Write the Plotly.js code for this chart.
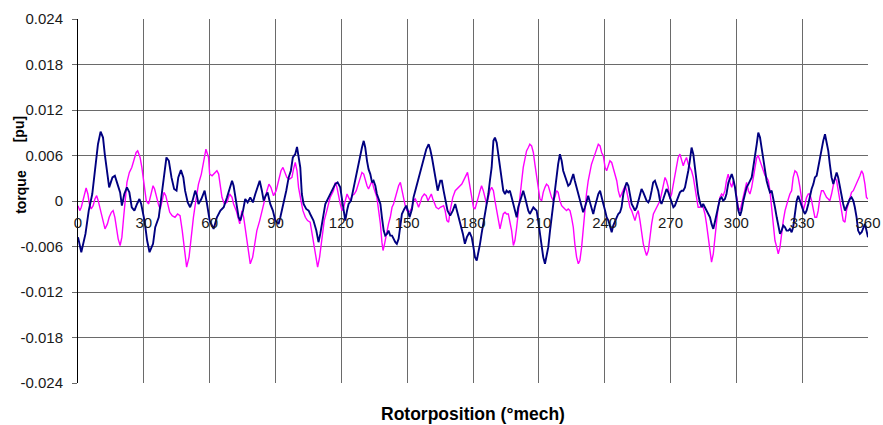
<!DOCTYPE html>
<html>
<head>
<meta charset="utf-8">
<script src="https://cdn.plot.ly/plotly-3.0.1.min.js"></script>
<style>html,body{margin:0;padding:0;background:#fff;}#chart{width:883px;height:425px;}</style>
</head>
<body>
<div id="chart"></div>
<script>
// ---- Navy series (rotor position in degrees, torque in pu) ----
const navyX1 = [0,1.5,3.4,4.9,6.5,8.0,9.1,10.3,11.4,12.2,13.4,14.2,15.7,16.8,18.0,19.2,20.0,21.1,22.3,23.4,24.5,25.7,26.9,28.0,28.8,29.5,30.3,31.5,32.6,34.2,35.2,36.8,38.0,39.2,40.3,41.4,42.6,43.8,44.9,45.7,46.9,48.0,48.8,50.0,51.1,52.2,53.4,54.2,54.9,56.2,57.7];
const navyY1 = [-0.00477,-0.00675,-0.00434,-0.00127,0.00092,0.00442,0.00749,0.00915,0.00837,0.00618,0.00355,0.0018,0.00311,0.00333,0.00223,0.00114,-0.00061,0.00092,0.0018,0.00114,-0.00083,-0.00127,-0.00039,0.00026,-0.00039,-0.00127,-0.00258,-0.00521,-0.00675,-0.00565,-0.00346,-0.00215,0.00048,0.00311,0.00574,0.0053,0.00311,0.00158,0.00136,0.00311,0.00407,0.00311,0.00136,-0.00018,-0.00083,0.00004,0.00136,0.0007,-0.00039,0.00026,0.00136];
const navyX2 = [58.8,60.0,61.8,63.3,64.9,66.4,67.9,69.1,70.2,70.9,72.1,73.2,74.0,75.2,76.2,77.3,78.5,79.7,80.8,81.9,82.8,83.8,84.6,85.5,86.4,87.6,88.8,89.9,91.4,92.2,93.7,94.9,96.0,97.0,97.9,99.0,99.8,100.7,101.3,102.0,102.8,104.0,105.1,105.8,107.3,108.6,109.6,110.4,111.6,112.7,114.2,115.7,117.2,118.3];
const navyY2 = [-0.00039,-0.00258,-0.00368,-0.00215,-0.00127,-0.00083,0.00048,0.0018,0.00267,0.00201,0.00004,-0.00215,-0.00258,-0.00127,0.00026,-0.00018,0.00048,-0.00018,0.00092,0.0018,0.00267,0.00136,0.00004,0.0007,0.00114,-0.00039,-0.00127,-0.00258,-0.00302,-0.00215,-0.00039,0.00136,0.00311,0.00399,0.00574,0.00618,0.00714,0.00574,0.00442,0.00092,-0.00039,-0.00105,-0.00127,-0.00171,-0.00258,-0.0039,-0.00543,-0.00434,-0.00215,-0.00039,0.00048,0.00136,0.00223,0.00245];
const navyX3 = [119.5,120.3,121.1,121.8,122.6,123.3,124.4,125.3,126.4,127.4,128.3,129.4,130.2,130.9,131.7,132.4,133.2,134.0,134.7,135.5,136.2,137.0,137.8,138.5,139.3,140.0,140.8,141.5,142.3,143.1,143.8,144.6,145.3,146.1,146.9,147.6,148.7,149.6,150.3,151.1,152.2,152.9,153.7,154.7,155.7,156.4,157.5,158.7,159.8,160.5,161.3,162.0,162.8,163.9,165.1,165.8,166.6,167.3,168.4,169.6,170.8,171.9,172.7,173.4,174.5,175.4,176.3,177.2,178.4];
const navyY3 = [0.0018,0.00026,-0.00127,-0.00258,-0.00127,-0.00039,0.00004,0.00136,0.00311,0.00442,0.00574,0.00705,0.00793,0.00705,0.0053,0.0042,0.00355,0.00245,0.00267,0.00201,0.00092,0.00026,-0.00039,-0.00215,-0.0039,-0.00456,-0.00434,-0.0039,-0.00456,-0.00456,-0.00499,-0.00543,-0.00565,-0.00499,-0.00324,-0.00171,-0.00105,-0.00061,-0.00127,-0.00215,-0.00105,0.00048,0.00136,0.00245,0.00355,0.00442,0.00574,0.00683,0.00749,0.00683,0.00574,0.00442,0.00311,0.00136,0.00267,0.00267,0.00136,0.00048,-0.00127,-0.00193,-0.00127,-0.00039,-0.00127,-0.00215,-0.00324,-0.00434,-0.00565,-0.00477,-0.00412];
const navyX4 = [179.4,180.2,180.9,181.7,182.4,183.2,183.9,185.0,185.9,187.0,187.7,188.5,189.3,190.0,190.8,191.5,192.3,193.1,193.8,194.6,195.3,196.1,196.8,197.6,198.4,199.1,199.9,200.6,201.4,202.2,202.9,203.7,204.4,205.2,205.9,206.7,207.5,208.2,209.0,209.7,210.5,211.3,212.0,212.8,213.5,214.3,215.1,215.8,216.6,217.3,218.1,218.8,219.6,220.4,221.1,221.9,222.6,223.4,224.2,224.9,225.7,226.4,227.2,228.0,228.7,229.5,230.2,231.0,231.7,232.5,233.3,234.0,234.8,235.5,236.3,237.1];
const navyY4 = [-0.00477,-0.00609,-0.0074,-0.00784,-0.00696,-0.00565,-0.00434,-0.00258,-0.00083,0.00092,0.00267,0.00442,0.00793,0.00837,0.0077,0.00618,0.00442,0.00267,0.00136,0.00092,0.00136,0.00114,0.00136,0.00048,-0.00039,-0.00127,-0.00215,-0.00083,0.00004,0.00092,0.00136,0.00048,-0.00039,-0.00127,-0.00171,-0.00127,-0.00083,-0.00105,-0.00127,-0.00258,-0.00434,-0.00609,-0.0074,-0.00828,-0.0074,-0.00609,-0.0039,-0.00215,-0.00039,0.00136,0.00311,0.00486,0.00618,0.0053,0.00399,0.00333,0.00267,0.00201,0.00223,0.00289,0.00355,0.00267,0.0018,0.00114,0.00004,-0.00083,-0.00149,-0.00083,0.00004,0.0007,-0.00018,-0.00083,-0.00171,-0.00083,0.00026,0.00092];
const navyX5 = [237.9,238.6,239.4,240.2,240.9,241.7,242.4,243.2,243.9,244.7,245.5,246.2,247.0,247.7,248.5,249.3,250.0,250.8,251.5,252.3,253.1,253.8,254.6,255.3,256.1,256.8,257.6,258.4,259.1,259.9,260.6,261.4,262.1,262.9,263.7,264.4,265.2,265.9,266.7,267.5,268.2,269.0,269.7,270.5,271.3,272.0,272.8,273.5,274.3,275.1,275.8,276.6,277.3,278.1,278.8,279.6,280.4,281.1,281.9,282.6,283.4,284.2,284.9,285.7,286.4,287.2,288.0,288.7,289.5,290.2,291.0,291.7,292.5,293.3,294.0,294.8,295.5];
const navyY5 = [0.00136,0.0007,-0.00039,-0.00127,-0.00215,-0.00258,-0.00346,-0.00412,-0.00324,-0.00258,-0.00215,-0.00171,-0.00149,-0.00083,0.00092,0.0018,0.00245,0.00201,0.0007,-0.00039,-0.00083,-0.00127,-0.00083,0.00004,0.00092,0.00158,0.00114,0.00048,0.00004,-0.00018,0.00026,0.00136,0.00245,0.00267,0.00201,0.00136,0.00004,-0.00039,0.00026,0.00092,0.00158,0.00114,0.00048,-0.00039,-0.00083,-0.00061,0.00004,0.0007,0.00114,0.00136,0.00136,0.0018,0.00267,0.00399,0.0053,0.00705,0.00618,0.00442,0.00267,0.00092,-0.00018,-0.00083,-0.00039,-0.00083,-0.00127,-0.00171,-0.00215,-0.00302,-0.00368,-0.0028,-0.00171,-0.00039,0.00026,0.00048,0.00004,0.00026,0.00092];
const navyX6 = [296.4,297.1,297.9,298.6,299.4,300.2,300.9,301.7,302.4,303.2,303.9,304.7,305.5,306.2,307.0,307.7,308.5,309.3,310.0,310.8,311.5,312.3,313.1,313.8,314.6,315.3,316.1,316.8,317.6,318.4,319.1,319.9,320.6,321.4,322.2,322.9,323.7,324.4,325.2,325.9,326.7,327.5,328.2,329.0,329.7,330.5,331.3,332.0,332.8,333.5,334.3,335.1,335.8,336.6,337.3,338.1,338.8,339.6,340.4,341.1,341.9,342.6,343.4,344.2,344.9,345.7,346.4,347.2,348.0,348.7,349.5,350.2,351.0,351.7,352.5,353.3,354.0,354.8,355.5,356.3,357.1,357.8,358.6,359.3,360];
const navyY6 = [0.00245,0.00311,0.00355,0.00289,0.0018,0.00004,-0.00127,-0.00193,-0.00127,0.00004,0.00092,0.0018,0.00223,0.00267,0.00311,0.00442,0.00574,0.00749,0.00902,0.00837,0.00705,0.0053,0.00355,0.00267,0.0018,0.00114,0.00136,0.00048,-0.00083,-0.00215,-0.00324,-0.00434,-0.0039,-0.00324,-0.00346,-0.0039,-0.0039,-0.00368,-0.00412,-0.00346,-0.00171,0.00004,0.0007,0.00004,-0.00083,-0.00127,-0.00171,-0.00127,-0.00039,0.0007,0.00158,0.00223,0.00311,0.00333,0.00442,0.00574,0.00705,0.00793,0.0088,0.00793,0.00661,0.00486,0.00311,0.00223,0.00311,0.00377,0.00311,0.0018,0.00048,-0.00039,-0.00127,-0.00083,-0.00018,0.00026,0.00048,0.00004,-0.00083,-0.00215,-0.0039,-0.00434,-0.00412,-0.00346,-0.00302,-0.0039,-0.00477];

// ---- Magenta series ----
const magX1 = [0.0,0.8,1.5,2.3,3.1,3.7,4.5,5.2,6.0,6.9,7.7,8.5,9.2,10.3,11.4,12.3,13.4,14.2,15.2,16.0,16.8,17.5,18.3,19.2,20.0,20.8,21.5,22.3,23.4,24.5,25.4,26.5,27.2,28.3,29.1,30.0,31.1,32.2,33.1,34.2,34.9,35.7,36.8,37.5,38.5,39.2,40.0,40.8,41.8,42.9,44.2,45.4,46.5,47.5,48.5,49.5,50.6,51.5,52.6,53.7,54.9,56.2,57.2,58.3,59.5];
const magY1 = [-0.00061,-0.00127,-0.00083,0.00026,0.00136,0.00171,0.00092,-0.00039,-0.00105,-0.00061,0.00026,0.0007,0.00004,-0.00127,-0.00258,-0.00368,-0.00302,-0.00215,-0.00149,-0.00127,-0.00215,-0.00368,-0.00499,-0.00587,-0.00477,-0.00215,0.00004,0.00245,0.00377,0.00442,0.0053,0.0064,0.00661,0.00574,0.00442,0.00223,0.00004,-0.00039,0.0007,0.00201,0.00158,0.00048,-0.00061,-0.00105,0.00048,0.00114,0.0007,-0.00039,-0.00149,-0.00193,-0.00215,-0.00171,-0.00193,-0.0039,-0.00653,-0.00872,-0.0074,-0.00477,-0.00215,0.00004,0.00223,0.00355,0.0053,0.00683,0.00574];
const magX2 = [60.0,61.1,62.6,63.3,64.1,64.9,65.6,66.7,67.9,69.1,70.2,70.9,72.1,73.7,74.7,75.5,76.7,77.8,78.5,79.6,80.5,81.5,82.8,83.8,84.9,86.1,87.0,87.9,89.1,90.3,91.4,92.5,93.4,94.4,95.2,96.4,97.5,98.2,99.0,99.8,100.5,101.6,102.5,103.6,104.6,105.8,107.0,108.1,109.2,110.1,111.1,112.2,113.4,114.9,116.4];
const magY2 = [0.00355,0.00333,0.00377,0.00399,0.00355,0.0018,0.00048,-0.00039,-0.00018,0.00092,0.00048,-0.00039,-0.00127,-0.00302,-0.00127,-0.00215,-0.00477,-0.00696,-0.00828,-0.0074,-0.00565,-0.0039,-0.00258,-0.00127,0.00004,0.00136,0.00223,0.0018,0.0007,0.00136,0.00267,0.00399,0.00442,0.00377,0.00311,0.00289,0.00311,0.0042,0.00508,0.00399,0.0018,0.00004,-0.00127,-0.00215,-0.00258,-0.0028,-0.00477,-0.00653,-0.00872,-0.0074,-0.00477,-0.00258,-0.00127,0.00048,0.00136];
const magX3 = [117.3,118.0,118.8,119.5,120.3,121.1,121.8,122.6,123.3,124.1,124.9,125.9,126.8,127.9,128.6,129.4,130.2,130.9,131.7,132.4,133.2,134.0,134.7,135.5,136.2,137.0,137.8,138.5,139.0,139.7,140.5,141.5,142.3,143.1,143.8,144.6,145.3,146.1,146.9,147.6,148.4,149.1,149.9,150.7,151.4,152.2,152.9,153.7,154.4,155.2,156.0,156.7,157.8,158.7,159.5,160.2,161.0,161.7,162.5,163.2,164.3,165.1,166.6,167.3,168.1,168.9,169.6,170.8,171.9,173.4,174.9,176.4,177.5];
const magY3 = [0.00245,0.0018,0.00048,-0.00039,-0.00127,-0.00083,0.00004,0.00092,0.00048,0.00004,0.0007,0.00092,0.00136,0.00245,0.00311,0.00377,0.00355,0.00267,0.00201,0.00158,0.00223,0.00267,0.0018,0.00114,0.00048,-0.00127,-0.00302,-0.00543,-0.00653,-0.00565,-0.00434,-0.00302,-0.00215,-0.00083,-0.00039,0.00048,0.00136,0.00201,0.00245,0.00136,0.00004,-0.00061,-0.00127,-0.00149,-0.00127,-0.00083,0.00004,0.00026,-0.00018,-0.00083,-0.00018,0.00048,0.00092,0.0007,0.00004,0.00048,0.00092,0.00026,-0.00039,-0.00083,-0.00105,-0.00083,-0.00061,-0.00127,-0.00258,-0.0028,-0.00127,0.00048,0.00136,0.0018,0.00223,0.00311,0.00377];
const magX4 = [177.9,178.6,179.4,180.2,180.9,181.7,182.4,183.2,183.9,184.7,185.5,186.2,187.0,187.7,188.5,189.3,190.0,190.8,191.5,192.3,193.1,193.8,194.6,195.3,196.1,196.8,197.6,198.4,199.1,199.9,200.6,201.4,202.2,202.9,203.7,204.4,205.2,205.9,206.7,207.5,208.2,209.0,209.7,210.5,211.3,212.0,212.8,213.5,214.3,215.1,215.8,216.6,217.3,218.1,218.8,219.6,220.4,221.1,221.9,222.6,223.4,224.2,224.9,225.7,226.4,227.2,228.0,228.7,229.5,230.2,231.0,231.7,232.5,233.3,234.0,234.8,235.5,236.3,237.1];
const magY4 = [0.00311,0.0018,0.00048,-0.00083,-0.00105,-0.00039,0.00048,0.00136,0.00201,0.00136,0.00026,-0.00039,0.00048,0.00136,0.0018,0.00136,0.00004,-0.00127,-0.00258,-0.00368,-0.00258,-0.00171,-0.00149,-0.00171,-0.00171,-0.00258,-0.0039,-0.00587,-0.00521,-0.00346,-0.00127,0.00092,0.00267,0.00442,0.00574,0.00661,0.00705,0.00749,0.00727,0.0064,0.00486,0.00311,0.00136,0.00026,0.00004,0.00114,0.0018,0.00223,0.00201,0.00114,0.00048,0.00004,0.00048,0.00136,0.00114,0.00004,-0.00061,-0.00083,-0.00105,-0.00127,-0.00105,-0.00127,-0.00215,-0.00346,-0.00565,-0.0074,-0.00828,-0.00784,-0.00609,-0.00346,-0.00127,0.00092,0.00267,0.00399,0.00486,0.00552,0.00618,0.00705,0.00749];
const magX5 = [237.9,238.6,239.4,240.2,240.9,241.7,242.4,243.2,243.9,244.7,245.5,246.2,247.0,247.7,248.5,249.3,250.0,250.8,251.5,252.3,253.1,253.8,254.6,255.3,256.1,256.8,257.6,258.4,259.1,259.9,260.6,261.4,262.2,262.9,263.7,264.4,265.2,265.9,266.7,267.5,268.2,269.0,269.7,270.5,271.3,272.0,272.8,273.5,274.3,275.1,275.8,276.6,277.3,278.1,278.8,279.6,280.4,281.1,281.9,282.6,283.4,284.2,284.9,285.7,286.4,287.2,288.0,288.7,289.5,290.2,291.0,291.7,292.5,293.3,294.0,294.8,295.5,296.3];
const magY5 = [0.00727,0.0064,0.00596,0.00442,0.00399,0.00464,0.0053,0.00508,0.00442,0.00355,0.00267,0.00136,0.00048,0.00092,0.00158,0.00201,0.00136,0.00004,-0.00083,-0.00127,-0.00215,-0.00258,-0.00171,-0.00127,-0.00258,-0.00434,-0.00565,-0.00653,-0.00718,-0.00653,-0.00477,-0.00302,-0.00171,-0.00127,-0.00083,-0.00039,0.00004,0.00092,0.00201,0.00311,0.00267,0.0018,0.00026,0.00092,0.00223,0.00355,0.00486,0.00574,0.00618,0.0053,0.00464,0.0053,0.00574,0.00486,0.00442,0.00399,0.00311,0.0018,0.00048,-0.00083,-0.00083,-0.00061,-0.00083,-0.00171,-0.00302,-0.00477,-0.00653,-0.00806,-0.00696,-0.00477,-0.00258,-0.00083,0.00048,0.00092,0.0007,0.00136,0.00267,0.00355];
const magX6 = [297.1,297.9,298.6,299.4,300.2,300.9,301.7,302.4,303.2,303.9,304.7,305.5,306.2,307.0,307.7,308.5,309.3,310.0,310.8,311.5,312.3,313.1,313.8,314.6,315.3,316.1,316.8,317.6,318.4,319.1,319.9,320.6,321.4,322.2,322.9,323.7,324.4,325.2,325.9,326.7,327.5,328.2,329.0,329.7,330.5,331.3,332.0,332.8,333.5,334.3,335.1,335.8,336.6,337.3,338.1,338.8,339.6,340.4,341.1,341.9,342.6,343.4,344.2,344.9,345.7,346.4,347.2,348.0,348.7,349.5,350.2,351.0,351.7,352.5,353.3,354.0,354.8,355.5,356.3,357.1,357.8,358.6,359.3,360];
const magY6 = [0.00245,0.0018,0.00267,0.0018,0.00048,-0.00083,-0.00127,-0.00039,0.00092,0.00136,0.00245,0.00136,0.00092,0.0018,0.00311,0.00442,0.00574,0.00596,0.0053,0.00442,0.00377,0.00333,0.00311,0.00267,0.00136,-0.00083,-0.00302,-0.00521,-0.00609,-0.00696,-0.00609,-0.00434,-0.00258,-0.00127,-0.00039,0.00026,0.00092,0.00136,0.00311,0.00399,0.00377,0.00311,0.0018,0.00004,-0.00127,-0.00039,0.00048,0.00092,0.00092,0.00004,-0.00127,-0.00215,-0.00215,-0.00127,0.00048,0.00136,0.00136,0.00092,0.00048,0.00026,0.00004,0.00092,0.00223,0.00311,0.00267,0.00136,-0.00039,-0.00171,-0.00258,-0.0028,-0.00127,-0.00039,0.00048,0.00114,0.00136,0.0018,0.00223,0.00267,0.00333,0.00399,0.00355,0.00223,0.00048,0.00026];

// ---- Ticks ----
const xTickVals = [0,30,60,90,120,150,180,210,240,270,300,330,360];
const xTickText = ['0','30','60','90','120','150','180','210','240','270','300','330','360'];
const yTickVals = [-0.024,-0.018,-0.012,-0.006,0,0.006,0.012,0.018,0.024];
const yTickText = ['-0.024','-0.018','-0.012','-0.006','0','0.006','0.012','0.018','0.024'];

const navyX = [].concat(navyX1, navyX2, navyX3, navyX4, navyX5, navyX6);
const navyY = [].concat(navyY1, navyY2, navyY3, navyY4, navyY5, navyY6);
const magX = [].concat(magX1, magX2, magX3, magX4, magX5, magX6);
const magY = [].concat(magY1, magY2, magY3, magY4, magY5, magY6);

const traces = [
  {x: magX, y: magY, type: 'scatter', mode: 'lines', line: {color: '#FF00FF', width: 1.4}, hoverinfo: 'skip'},
  {x: navyX, y: navyY, type: 'scatter', mode: 'lines', line: {color: '#000080', width: 1.9}, hoverinfo: 'skip'}
];

const FONT = 'Liberation Sans, Arial, sans-serif';
const layout = {
  width: 883, height: 425,
  margin: {l: 78, r: 15, t: 19, b: 42},
  paper_bgcolor: '#ffffff', plot_bgcolor: '#ffffff',
  showlegend: false,
  font: {family: FONT, color: '#000000'},
  xaxis: {
    range: [0, 360], tickmode: 'array', tickvals: xTickVals, ticktext: xTickText,
    anchor: 'free', position: 0.5,
    showgrid: true, gridcolor: '#6a6a6a', gridwidth: 1,
    zeroline: false, showline: false,
    ticks: 'outside', ticklen: 8, tickcolor: 'rgba(0,0,0,0)',
    tickfont: {size: 15, color: '#1a1a1a', family: FONT}
  },
  yaxis: {
    range: [-0.024, 0.024], tickmode: 'array', tickvals: yTickVals, ticktext: yTickText,
    showgrid: true, gridcolor: '#6a6a6a', gridwidth: 1,
    zeroline: true, zerolinecolor: '#404040', zerolinewidth: 1,
    showline: true, linecolor: '#000000', linewidth: 1,
    ticks: 'outside', ticklen: 5, tickcolor: '#6a6a6a',
    ticklabelstandoff: 6,
    tickfont: {size: 15, color: '#1a1a1a', family: FONT}
  },
  annotations: [
    {text: '<b>Rotorposition (°mech)</b>', xref: 'paper', yref: 'paper', x: 0.5, y: -0.084,
     xanchor: 'center', yanchor: 'middle', showarrow: false, font: {size: 17.5, family: FONT, color: '#000'}},
    {text: '<b>torque</b>', xref: 'paper', yref: 'paper', x: -0.073, y: 0.526, textangle: -90,
     xanchor: 'center', yanchor: 'middle', showarrow: false, font: {size: 14, family: FONT, color: '#000'}},
    {text: '<b>[pu]</b>', xref: 'paper', yref: 'paper', x: -0.0742, y: 0.698, textangle: -90,
     xanchor: 'center', yanchor: 'middle', showarrow: false, font: {size: 14, family: FONT, color: '#000'}}
  ]
};

Plotly.newPlot('chart', traces, layout, {staticPlot: true, displayModeBar: false});
</script>
</body>
</html>
